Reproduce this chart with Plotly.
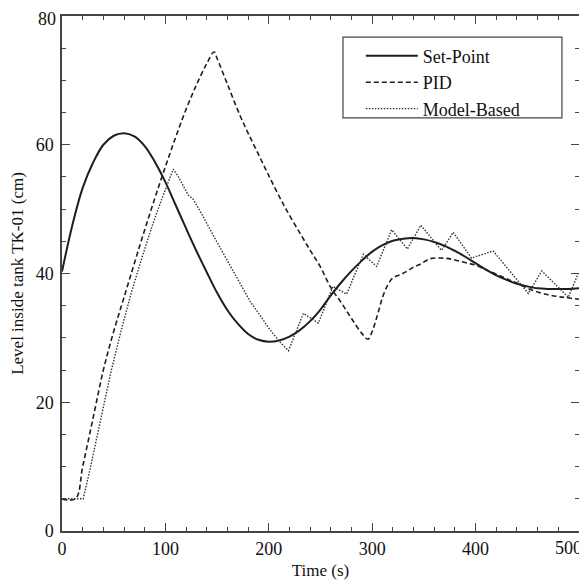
import plotly.graph_objects as go

# ---- data ----
sp_t = [0, 10, 20, 30, 40, 50, 60, 70, 80, 90, 100, 110, 120, 130, 140, 150, 160, 170, 180, 190,
        200, 210, 220, 230, 240, 250, 260, 270, 280, 290, 300, 310, 320, 330, 340, 350, 360, 370,
        380, 390, 400, 410, 420, 430, 440, 450, 460, 470, 480, 490, 500]
sp_v = [40.3, 47.5, 53.3, 57.2, 60.0, 61.4, 61.8, 61.3, 59.8, 57.3, 54.2, 50.6, 47.0, 43.5, 40.2,
        37.0, 34.3, 32.2, 30.6, 29.7, 29.4, 29.6, 30.2, 31.2, 32.6, 34.4, 36.6, 38.6, 40.4, 42.0,
        43.4, 44.4, 45.1, 45.4, 45.5, 45.3, 44.9, 44.3, 43.5, 42.6, 41.6, 40.6, 39.7, 39.0, 38.4,
        38.0, 37.7, 37.6, 37.6, 37.6, 37.7]

pid_t = [0, 13, 20, 30, 40, 50, 60, 70, 80, 90, 100, 110, 120, 130, 140, 147, 150, 160, 172, 180,
         190, 200, 210, 217, 230, 240, 250, 260, 270, 280, 290, 296, 300, 305, 310, 315, 320, 327,
         333, 340, 346, 356, 365, 372, 380, 390, 400, 407, 420, 430, 440, 455, 470, 485, 500]
pid_v = [5, 5, 10, 17.5, 25, 31, 36.3, 41.6, 46.8, 51.8, 56.6, 61.2, 65.5, 69.3, 72.6, 74.4, 73.4,
         69.4, 64.6, 61.8, 58.5, 55.2, 52.0, 49.9, 46.3, 43.6, 41.0, 37.8, 35.5, 33.0, 30.7, 29.8,
         31.0, 33.5, 36.3, 38.2, 39.3, 39.8, 40.3, 41.0, 41.4, 42.3, 42.4, 42.35, 42.1, 41.7, 41.3,
         40.8, 39.9, 39.2, 38.5, 37.4, 36.7, 36.3, 36.0]

mb_t = [0, 20.5, 27, 37, 47, 57, 67, 77, 87, 97, 104, 107.6, 112, 118, 122, 127, 135, 145, 159.3,
        170, 181.8, 191.5, 200, 210, 219, 233.4, 248, 262, 275.3, 291.4, 304.3, 318.9, 334, 347,
        367, 378.4, 396, 417, 451, 464, 489.7, 500]
mb_v = [5, 5, 9.5, 17, 24.5, 31, 37, 42.3, 47.3, 51.8, 54.8, 56.2, 55.2, 53.3, 52.2, 51.5, 49.3,
        46.3, 42.1, 39.1, 35.7, 33.5, 31.5, 29.5, 28.0, 33.8, 32.3, 38.0, 36.8, 43.0, 41.1, 46.8,
        43.8, 47.5, 43.6, 46.4, 42.4, 43.5, 36.9, 40.4, 36.3, 40.3]

x_ticks = [0, 100, 200, 300, 400, 500]
x_ticklabels = ["0", "100", "200", "300", "400", "500"]
y_ticks = [0, 20, 40, 60, 80]
y_ticklabels = ["0", "20", "40", "60", "80"]

names = ["Set-Point", "PID", "Model-Based"]
x_title = "Time (s)"
y_title = "Level inside tank TK-01 (cm)"

FONT = "Liberation Serif, Times New Roman, serif"
INK = "#1e1e1e"
AX = "#444444"
TK = "#444444"

fig = go.Figure()
fig.add_trace(go.Scatter(x=sp_t, y=sp_v, name=names[0], mode="lines", line_shape="spline",
                         line=dict(color=INK, width=2)))
fig.add_trace(go.Scatter(x=pid_t, y=pid_v, name=names[1], mode="lines", line_shape="spline",
                         line=dict(color=INK, width=1.6, dash="5px,3px")))
fig.add_trace(go.Scatter(x=mb_t, y=mb_v, name=names[2], mode="lines",
                         line=dict(color="#333333", width=1.4, dash="1.5px,1.5px")))

axis_common = dict(showgrid=False, zeroline=False, showline=True, linecolor=AX, linewidth=1.5,
                   mirror="allticks", ticks="inside", ticklen=8, tickwidth=1.3, tickcolor=TK,
                   automargin=False, ticklabeloverflow="allow",
                   tickfont=dict(family=FONT, size=18, color="#111111"))

# the last label of each axis is drawn as an annotation, nudged inward like in the reference
fig.update_xaxes(range=[0, 500], tickvals=x_ticks, ticktext=x_ticklabels[:-1] + [""],
                 ticklabelstandoff=1,
                 minor=dict(tickvals=list(range(0, 501, 20)), ticks="inside", ticklen=4,
                            tickcolor=TK, tickwidth=1.1, showgrid=False),
                 title=dict(text=x_title, font=dict(family=FONT, size=17, color="#111111"), standoff=6),
                 **axis_common)
fig.update_yaxes(range=[0, 80], tickvals=y_ticks, ticktext=y_ticklabels[:-1] + [""],
                 ticklabelstandoff=3,
                 minor=dict(dtick=5, ticks="inside", ticklen=4, tickcolor=TK, tickwidth=1.1,
                            showgrid=False),
                 title=dict(text=y_title, font=dict(family=FONT, size=17, color="#111111"), standoff=8),
                 **axis_common)

fig.add_annotation(x=x_ticks[-1], xref="x", y=0, yref="paper", text=x_ticklabels[-1],
                   showarrow=False, xanchor="right", yanchor="top", xshift=5, yshift=-5,
                   font=dict(family=FONT, size=18, color="#111111"))
fig.add_annotation(x=0, xref="paper", y=y_ticks[-1], yref="y", text=y_ticklabels[-1],
                   showarrow=False, xanchor="right", yanchor="middle", xshift=-4, yshift=-3,
                   font=dict(family=FONT, size=18, color="#111111"))

fig.add_shape(type="rect", xref="paper", yref="paper", x0=0.5435, x1=0.967, y0=0.802, y1=0.959,
              line=dict(color="#444444", width=1.2), fillcolor="white", layer="below")

# page body has an 8px margin; these margins place the plot area like the reference
fig.update_layout(
    width=579, height=577,
    margin=dict(l=54, r=8, t=8, b=54),
    plot_bgcolor="white", paper_bgcolor="white",
    font=dict(family=FONT, size=18, color="#111111"),
    legend=dict(x=0.578, y=0.958, xanchor="left", yanchor="top", bgcolor="rgba(0,0,0,0)",
                borderwidth=0, font=dict(family=FONT, size=18, color="#111111"),
                itemwidth=52, tracegroupgap=0),
)

fig.write_html("out.html")
